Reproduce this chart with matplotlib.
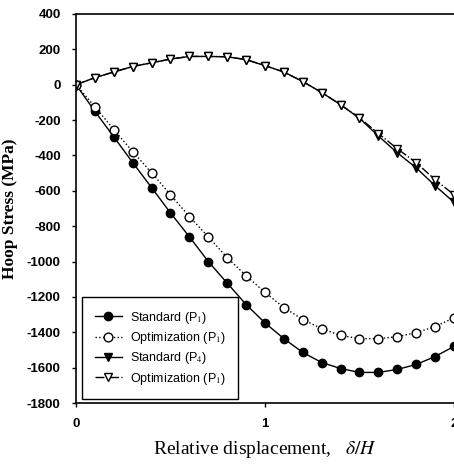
import matplotlib
matplotlib.use("Agg")
import matplotlib.pyplot as plt

plt.rcParams["mathtext.fontset"] = "stix"

# relative displacement delta/H
disp = [0.0, 0.1, 0.2, 0.3, 0.4, 0.5, 0.6, 0.7, 0.8, 0.9, 1.0,
        1.1, 1.2, 1.3, 1.4, 1.5, 1.6, 1.7, 1.8, 1.9, 2.0]

# hoop stress (MPa)
std_p1 = [0, -150, -295, -440, -582, -725, -860, -1000, -1122, -1243, -1347,
          -1436, -1514, -1571, -1605, -1627, -1627, -1610, -1582, -1537, -1480]
opt_p1 = [0, -124, -254, -378, -498, -622, -746, -860, -978, -1080, -1175,
          -1260, -1328, -1380, -1418, -1436, -1436, -1425, -1402, -1368, -1318]
std_p4 = [0, 40, 72, 103, 124, 145, 160, 160, 158, 142, 108,
          72, 18, -44, -113, -190, -290, -385, -470, -571, -665]
opt_p4 = [0, 40, 72, 103, 124, 145, 160, 160, 158, 142, 108,
          72, 18, -44, -113, -187, -276, -362, -441, -537, -622]

labels = ["Standard (P$_1$)", "Optimization (P$_1$)",
          "Standard (P$_4$)", "Optimization (P$_1$)"]

y_ticks = list(range(-1800, 401, 200))
x_ticks = [0, 1, 2]

fig = plt.figure(figsize=(4.54, 4.65), dpi=100)
ax = fig.add_axes([0.1674, 0.1333, 0.8326, 0.8366])

ax.plot(disp, std_p1, "-", color="black", lw=1.0, marker="o", ms=6,
        mfc="black", mec="black", label=labels[0])
ax.plot(disp, opt_p1, ":", color="black", lw=1.0, marker="o", ms=6.3,
        mfc="white", mec="black", mew=1.0, label=labels[1])
ax.plot(disp, std_p4, "-", color="black", lw=1.0, marker="v", ms=5.8,
        mfc="black", mec="black", label=labels[2])
ax.plot(disp, opt_p4, "-.", color="black", lw=1.0, marker="v", ms=6,
        mfc="white", mec="black", mew=1.0, label=labels[3])

ax.set_xlim(0, 2)
ax.set_ylim(-1800, 400)
ax.set_xticks(x_ticks)
ax.set_yticks(y_ticks)
ax.set_xticklabels([str(t) for t in x_ticks], fontfamily="Liberation Sans",
                   fontweight="bold", fontsize=9.5)
ax.set_yticklabels([str(t) for t in y_ticks], fontfamily="Liberation Sans",
                   fontweight="bold", fontsize=9.5)
ax.tick_params(direction="out", length=3, width=1, colors="black", pad=8)
for side in ["left", "bottom", "top"]:
    ax.spines[side].set_linewidth(1.2)
ax.spines["right"].set_visible(False)

ax.set_ylabel("Hoop Stress (MPa)", fontfamily="Liberation Serif",
              fontweight="bold", fontsize=12.5, labelpad=6)
ax.set_xlabel(r"Relative displacement,   $\delta/H$",
              fontfamily="Liberation Serif", fontsize=14, labelpad=6)

leg = ax.legend(loc="lower left", bbox_to_anchor=(0.016, 0.01),
                borderaxespad=0, fancybox=False, edgecolor="black",
                framealpha=1, handlelength=2.2, handletextpad=0.6,
                labelspacing=0.35, borderpad=1.0,
                prop={"family": "Liberation Sans", "size": 9})
leg.get_frame().set_linewidth(1.0)

fig.savefig("out.png", dpi=100)
